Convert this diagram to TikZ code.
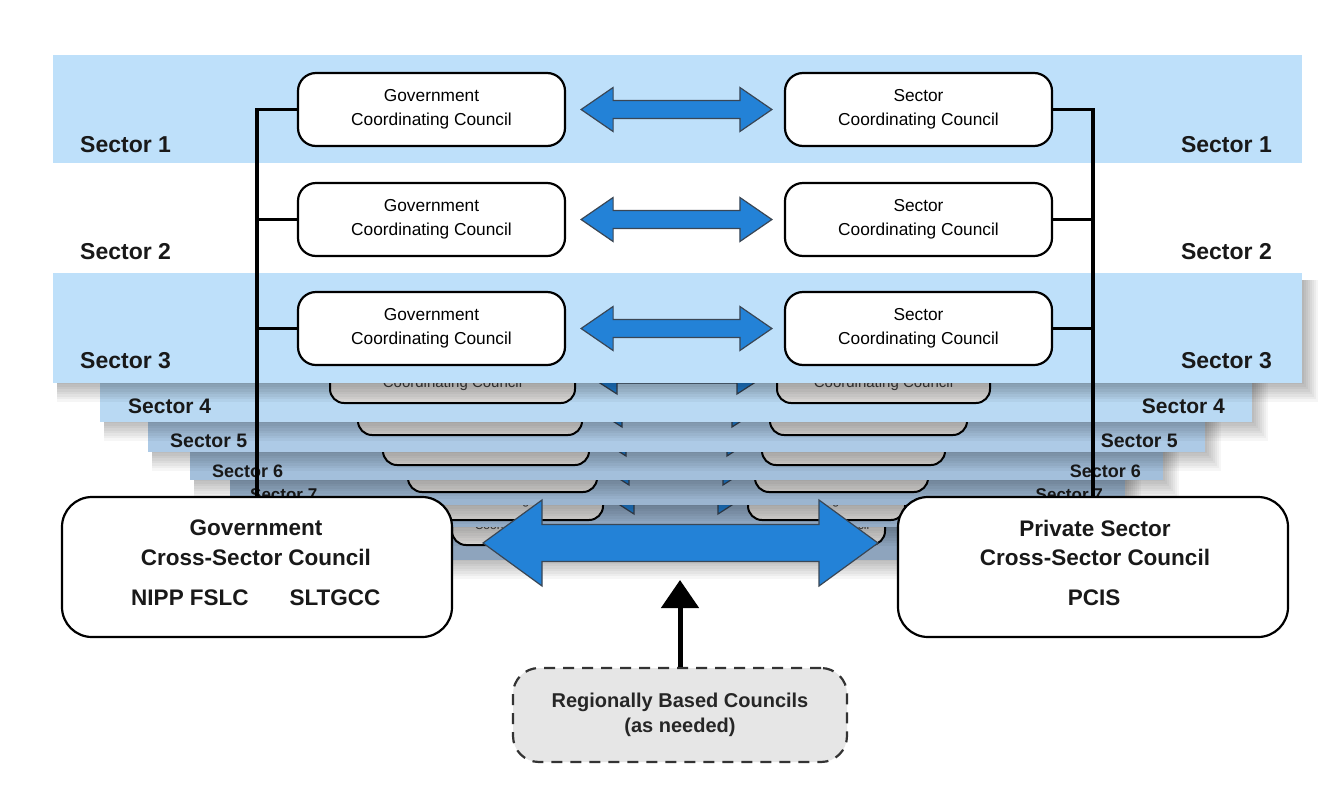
\documentclass[tikz,border=0pt]{standalone}
\usepackage{fontspec}
\setmainfont{Liberation Sans}
\usetikzlibrary{calc,arrows.meta}

\definecolor{bandblue}{HTML}{BEE0FA}
\definecolor{lay4}{HTML}{B9D9F3}
\definecolor{lay5}{HTML}{ADCAE6}
\definecolor{lay6}{HTML}{A3BFDB}
\definecolor{lay7}{HTML}{9BB5D0}
\definecolor{lay8}{HTML}{94ACC6}
\definecolor{lay9}{HTML}{8EA4BD}
\definecolor{arrblue}{HTML}{2382D7}
\definecolor{arredge}{HTML}{3A4654}
\definecolor{rbfill}{HTML}{E6E6E6}
\definecolor{lowbot}{HTML}{DCDAD8}

\tikzset{
  council/.style={draw=black, line width=2.2pt, fill=white, rounded corners=18pt,
    minimum width=267pt, minimum height=73pt, align=center, inner sep=0pt,
    font=\fontsize{17.3}{24}\selectfont},
  bigbox/.style={draw=black, line width=2.2pt, fill=white, rounded corners=30pt,
    minimum width=390pt, minimum height=140pt, inner sep=0pt},
  bigtext/.style={font=\bfseries\fontsize{22.5}{26}\selectfont, inner sep=0pt, text=black!90},
  seclabel/.style={font=\bfseries\fontsize{23}{27}\selectfont, inner sep=0pt, text=black!90},
  conn/.style={line width=3.5pt, black},
  bluearr/.style={fill=arrblue, draw=arredge, line width=1.2pt, line join=miter},
  lowbox/.style={draw=black, line width=2pt, rounded corners=14pt, top color=white, bottom color=lowbot},
  lowtext/.style={inner sep=0pt, text=black!75},
  regbox/.style={draw=black!80, line width=2.2pt, dash pattern=on 11pt off 8pt, fill=rbfill,
    rounded corners=26pt, minimum width=334pt, minimum height=94pt, align=center, inner sep=0pt,
    font=\bfseries\fontsize{20}{25}\selectfont, text=black!85},
  uparr/.style={line width=5pt, black, -{Triangle[length=28pt,width=37pt]}}
}

\newcommand\dblarr[5]{%
  \filldraw[bluearr] (#1) -- ($(#1)+(#5,-#4)$) -- ($(#1)+(#5,-#3)$) -- ($(#2)+(-#5,-#3)$)
   -- ($(#2)+(-#5,-#4)$) -- (#2) -- ($(#2)+(-#5,#4)$) -- ($(#2)+(-#5,#3)$)
   -- ($(#1)+(#5,#3)$) -- ($(#1)+(#5,#4)$) -- cycle;}

\begin{document}
\begin{tikzpicture}[x=1pt,y=-1pt]
\path[use as bounding box] (0,0) rectangle (1340,809);
\fill[white] (0,0) rectangle (1340,809);

% ---------- lower (stacked) layers, back to front ----------
\foreach \n/\bl/\br/\bb/\col/\lbl/\lbr/\rbl/\rbr/\xb/\al/\ar/\ah/\fs/\lx/\rx/\lbase/\ls in {
 9/300/1045/560/lay9/452/609/742/885/545/638/714/541/12/0/0/0/0,
 8/265/1085/527/lay8/430/603/748/905/520/634/718/514/12.5/0/0/0/0,
 7/230/1125/505/lay7/408/597/755/928/492/629/723/485/13/250/1103/500/17,
 6/190/1163/480/lay6/383/589/762/945/465/626/727/456/13.5/212/1141/477/18,
 5/148/1205/452/lay5/358/582/770/967/435/622/732/427/14/170/1178/447/19.5,
 4/100/1252/422/lay4/330/575/777/990/403/617/737/394/15/128/1225/413/21}
{
  % shadow
  \foreach \i in {0,...,7} {\fill[black,opacity=0.035] (\bl+4,\bb-100) rectangle (\br+2+2*\i,\bb+1+2.5*\i);}
  % band
  \fill[\col] (\bl,\bb-110) rectangle (\br,\bb);
  % council boxes of this layer
  \draw[lowbox] (\lbl,\xb-66) rectangle (\lbr,\xb);
  \draw[lowbox] (\rbl,\xb-66) rectangle (\rbr,\xb);
  \node[lowtext, font=\fontsize{\fs}{\fs}\selectfont] (lgt\n) at ({(\lbl+\lbr)/2},\xb-19) {Coordinating Council};
  \node[lowtext, font=\fontsize{\fs}{\fs}\selectfont] (lst\n) at ({(\rbl+\rbr)/2},\xb-19) {Coordinating Council};
  % arrow of this layer
  \pgfmathsetmacro\cy{\ah-18}
  \filldraw[bluearr] (\al-28,\cy) -- (\al,\cy-18) -- (\al,\cy-7) -- (\ar,\cy-7) -- (\ar,\cy-18)
     -- (\ar+28,\cy) -- (\ar,\cy+18) -- (\ar,\cy+7) -- (\al,\cy+7) -- (\al,\cy+18) -- cycle;
  % labels
  \ifnum\n<8
    \node[anchor=base west, inner sep=0pt, text=black!90, font=\bfseries\fontsize{\ls}{\ls}\selectfont] (ll\n) at (\lx,\lbase) {Sector \n};
    \node[anchor=base east, inner sep=0pt, text=black!90, font=\bfseries\fontsize{\ls}{\ls}\selectfont] (rl\n) at (\rx,\lbase) {Sector \n};
  \fi
}

% ---------- Sector 3 band ----------
\foreach \i in {0,...,7} {\fill[black,opacity=0.04] (57,280) rectangle (1304+2*\i,384+2.5*\i);}
\fill[bandblue] (53,273) rectangle (1302,383);
% ---------- Sector 1 band ----------
\fill[bandblue] (53,55) rectangle (1302,163);

% ---------- council nodes ----------
\node[council] (g1) at (431.5,109.5) {Government\\Coordinating Council};
\node[council] (s1) at (918.5,109.5) {Sector\\Coordinating Council};
\node[council] (g2) at (431.5,219.5) {Government\\Coordinating Council};
\node[council] (s2) at (918.5,219.5) {Sector\\Coordinating Council};
\node[council] (g3) at (431.5,328.5) {Government\\Coordinating Council};
\node[council] (s3) at (918.5,328.5) {Sector\\Coordinating Council};

% ---------- big boxes ----------
\node[bigbox] (gx) at (257,567) {};
\node[bigbox] (px) at (1093,567) {};
\node[bigtext] (gxt1) at ($(gx.center)+(-1,-39)$) {Government};
\node[bigtext] (gxt2) at ($(gx.center)+(-1,-10)$) {Cross-Sector Council};
\node[bigtext] (gxt3) at ($(gx.center)+(-67,31)$) {NIPP FSLC};
\node[bigtext] (gxt4) at ($(gx.center)+(78,31)$) {SLTGCC};
\node[bigtext] (pxt1) at ($(px.center)+(2,-39)$) {Private Sector};
\node[bigtext] (pxt2) at ($(px.center)+(2,-10)$) {Cross-Sector Council};
\node[bigtext] (pxt3) at ($(px.center)+(1,31)$) {PCIS};

% ---------- connectors ----------
\draw[conn] (gx.north) |- (g1.west);
\draw[conn] (gx.north) |- (g2.west);
\draw[conn] (gx.north) |- (g3.west);
\draw[conn] (px.north) |- (s1.east);
\draw[conn] (px.north) |- (s2.east);
\draw[conn] (px.north) |- (s3.east);

% ---------- sector labels ----------
\node[seclabel, anchor=base west] (l1) at (80,152) {Sector 1};
\node[seclabel, anchor=base east] (r1) at (1272,152) {Sector 1};
\node[seclabel, anchor=base west] (l2) at (80,259) {Sector 2};
\node[seclabel, anchor=base east] (r2) at (1272,259) {Sector 2};
\node[seclabel, anchor=base west] (l3) at (80,368) {Sector 3};
\node[seclabel, anchor=base east] (r3) at (1272,368) {Sector 3};

% ---------- blue double arrows ----------
\foreach \k in {1,2,3} {
  \coordinate (al\k) at ($(g\k.east)+(15,0)$);
  \coordinate (ar\k) at ($(s\k.west)+(-12,0)$);
  \dblarr{al\k}{ar\k}{9}{22}{32}
}
\coordinate (bal) at (483,543);
\coordinate (bar) at (878,543);
\dblarr{bal}{bar}{18.5}{43}{59}

% ---------- regional councils ----------
\node[regbox] (rb) at (680,715) {Regionally Based Councils\\(as needed)};
\coordinate (uptip) at (680,580);
\draw[uparr] (rb.north) -- (uptip);
\end{tikzpicture}
\end{document}
